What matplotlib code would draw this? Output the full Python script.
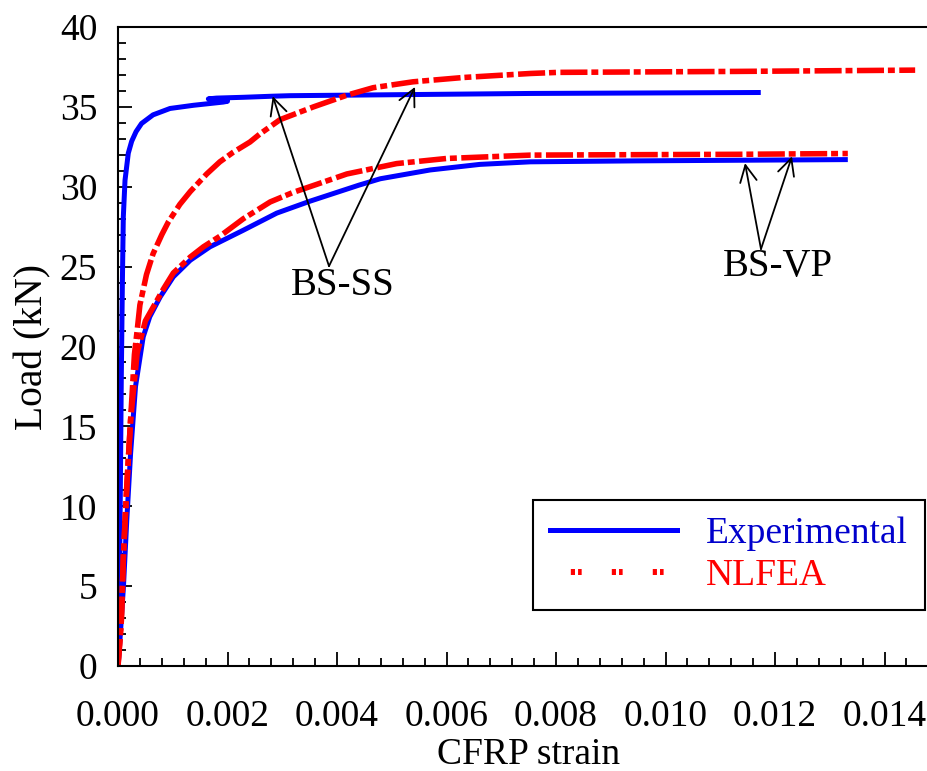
import numpy as np
import matplotlib
matplotlib.use('Agg')
import matplotlib.pyplot as plt
from matplotlib.lines import Line2D
from matplotlib.ticker import MultipleLocator, FormatStrFormatter

plt.rcParams['font.family'] = ['Liberation Serif', 'DejaVu Serif']
plt.rcParams['font.size'] = 27
plt.rcParams['lines.scale_dashes'] = False

# BS-SS experimental (blue, upper) - small loop near 0.002
ss_exp_x = [0, 0.00002, 0.00004, 0.00006, 0.00008, 0.000097, 0.000128, 0.000188, 0.00025,
            0.00033, 0.00043, 0.00064, 0.00095, 0.00138, 0.00192, 0.0020, 0.0018, 0.00165,
            0.0018, 0.00229, 0.00284, 0.00314, 0.00753, 0.01174]
ss_exp_y = [0, 3, 10, 18, 24, 28.1, 30.4, 32.1, 32.85,
            33.45, 33.96, 34.5, 34.9, 35.1, 35.3, 35.35, 35.45, 35.5,
            35.55, 35.6, 35.67, 35.7, 35.84, 35.9]

# BS-VP experimental (blue, lower)
vp_exp_x = [0, 0.00002, 0.0001, 0.00016, 0.00023, 0.00032, 0.00046, 0.00058, 0.00077,
            0.00101, 0.00132, 0.00168, 0.00229, 0.0029, 0.00351, 0.0044, 0.00479, 0.0057,
            0.00661, 0.00753, 0.00946, 0.01333]
vp_exp_y = [0, 0.8, 5.0, 9.1, 13.3, 17.5, 20.6, 21.86, 23.1,
            24.36, 25.4, 26.24, 27.28, 28.35, 29.1, 30.1, 30.5, 31.05,
            31.4, 31.56, 31.62, 31.7]

# BS-SS NLFEA (red, upper)
ss_fea_x = [0, 0.00006, 0.0001, 0.00016, 0.00023, 0.0003, 0.00035, 0.0004, 0.00052,
            0.00064, 0.0008, 0.00092, 0.00113, 0.00132, 0.00162, 0.00186, 0.0021, 0.00241,
            0.00259, 0.00296, 0.00357, 0.00418, 0.00466, 0.00539, 0.00631, 0.00753,
            0.00804, 0.0113, 0.01456]
ss_fea_y = [0, 2.8, 7.0, 11.2, 15.4, 19.5, 21.0, 22.6, 24.5,
            25.8, 27.0, 27.8, 28.9, 29.7, 30.8, 31.56, 32.15, 32.8,
            33.3, 34.2, 35.0, 35.73, 36.2, 36.57, 36.84, 37.09,
            37.16, 37.22, 37.3]

# BS-VP NLFEA (red, lower)
vp_fea_x = [0, 0.00006, 0.0001, 0.00016, 0.00023, 0.00035, 0.0005, 0.00083, 0.00101,
            0.00132, 0.00156, 0.00186, 0.00229, 0.00278, 0.0032, 0.00363, 0.00418, 0.00509,
            0.006, 0.00753, 0.00884, 0.0113, 0.01333]
vp_fea_y = [0, 2.8, 7.0, 11.2, 15.4, 19.6, 21.6, 23.6, 24.6,
            25.6, 26.24, 26.9, 28.0, 29.05, 29.65, 30.15, 30.8, 31.45,
            31.77, 31.98, 32.0, 32.03, 32.08]

fig = plt.figure(figsize=(9.28, 7.71), dpi=100)
ax = fig.add_axes([118 / 928, 105 / 771, (939.25 - 118) / 928, 639 / 771])

blue = '#0000FF'
red = '#FF0000'
dashdot = (0, (19.5, 2.8, 5, 3.2))

ax.plot(ss_exp_x, ss_exp_y, color=blue, lw=3.6, solid_joinstyle='round', solid_capstyle='butt')
ax.plot(vp_exp_x, vp_exp_y, color=blue, lw=3.6, solid_joinstyle='round', solid_capstyle='butt')
ax.plot(ss_fea_x, ss_fea_y, color=red, lw=4, linestyle=dashdot)
ax.plot(vp_fea_x, vp_fea_y, color=red, lw=4, linestyle=dashdot)

ax.set_xlim(0, 0.015)
ax.set_ylim(0, 40)
ax.xaxis.set_major_locator(MultipleLocator(0.002))
ax.xaxis.set_minor_locator(MultipleLocator(0.0004))
ax.yaxis.set_major_locator(MultipleLocator(5))
ax.yaxis.set_minor_locator(MultipleLocator(1))
ax.xaxis.set_major_formatter(FormatStrFormatter('%.3f'))
ax.tick_params(which='both', direction='in', width=1.3, top=False, right=False)
ax.tick_params(which='major', length=10)
ax.tick_params(which='minor', length=6)
ax.tick_params(axis='x', which='major', pad=24)
ax.tick_params(axis='y', which='major', pad=15)
for s in ax.spines.values():
    s.set_linewidth(1.5)

ax.set_xlabel('CFRP strain', labelpad=3)
ax.set_ylabel('Load (kN)', labelpad=6, fontsize=28.5)

# annotations
arrow = dict(arrowstyle='->', lw=1.3, color='k', shrinkA=0, shrinkB=0, mutation_scale=30)
for tip in [(0.002826, 35.67), (0.005425, 36.25)]:
    ax.annotate('', xy=tip, xytext=(0.003854, 25.03), arrowprops=arrow)
ax.text(0.00411, 23.84, 'BS-SS', ha='center', va='center', fontsize=28)
for tip in [(0.011452, 31.48), (0.01231, 31.9)]:
    ax.annotate('', xy=tip, xytext=(0.011744, 26.1), arrowprops=arrow)
ax.text(0.01205, 25.0, 'BS-VP', ha='center', va='center', fontsize=28)

h_exp = Line2D([], [], color=blue, lw=3.6)
h_fea = Line2D([], [], color=red, lw=4.3, linestyle=(14.5, (3, 2.2, 2.6, 21.7)))
leg = ax.legend([h_exp, h_fea], ['Experimental', 'NLFEA'], loc='upper left',
                bbox_to_anchor=((533 - 118) / 821.25, (666 - 500) / 639),
                frameon=True, fancybox=False, framealpha=1, edgecolor='k',
                handlelength=3.4, handletextpad=0.77, borderpad=0.45,
                labelspacing=0.2, borderaxespad=0,
                labelcolor=['#0000CC', red], fontsize=27)
leg.get_frame().set_linewidth(1.5)

fig.savefig('out.png', dpi=100)
